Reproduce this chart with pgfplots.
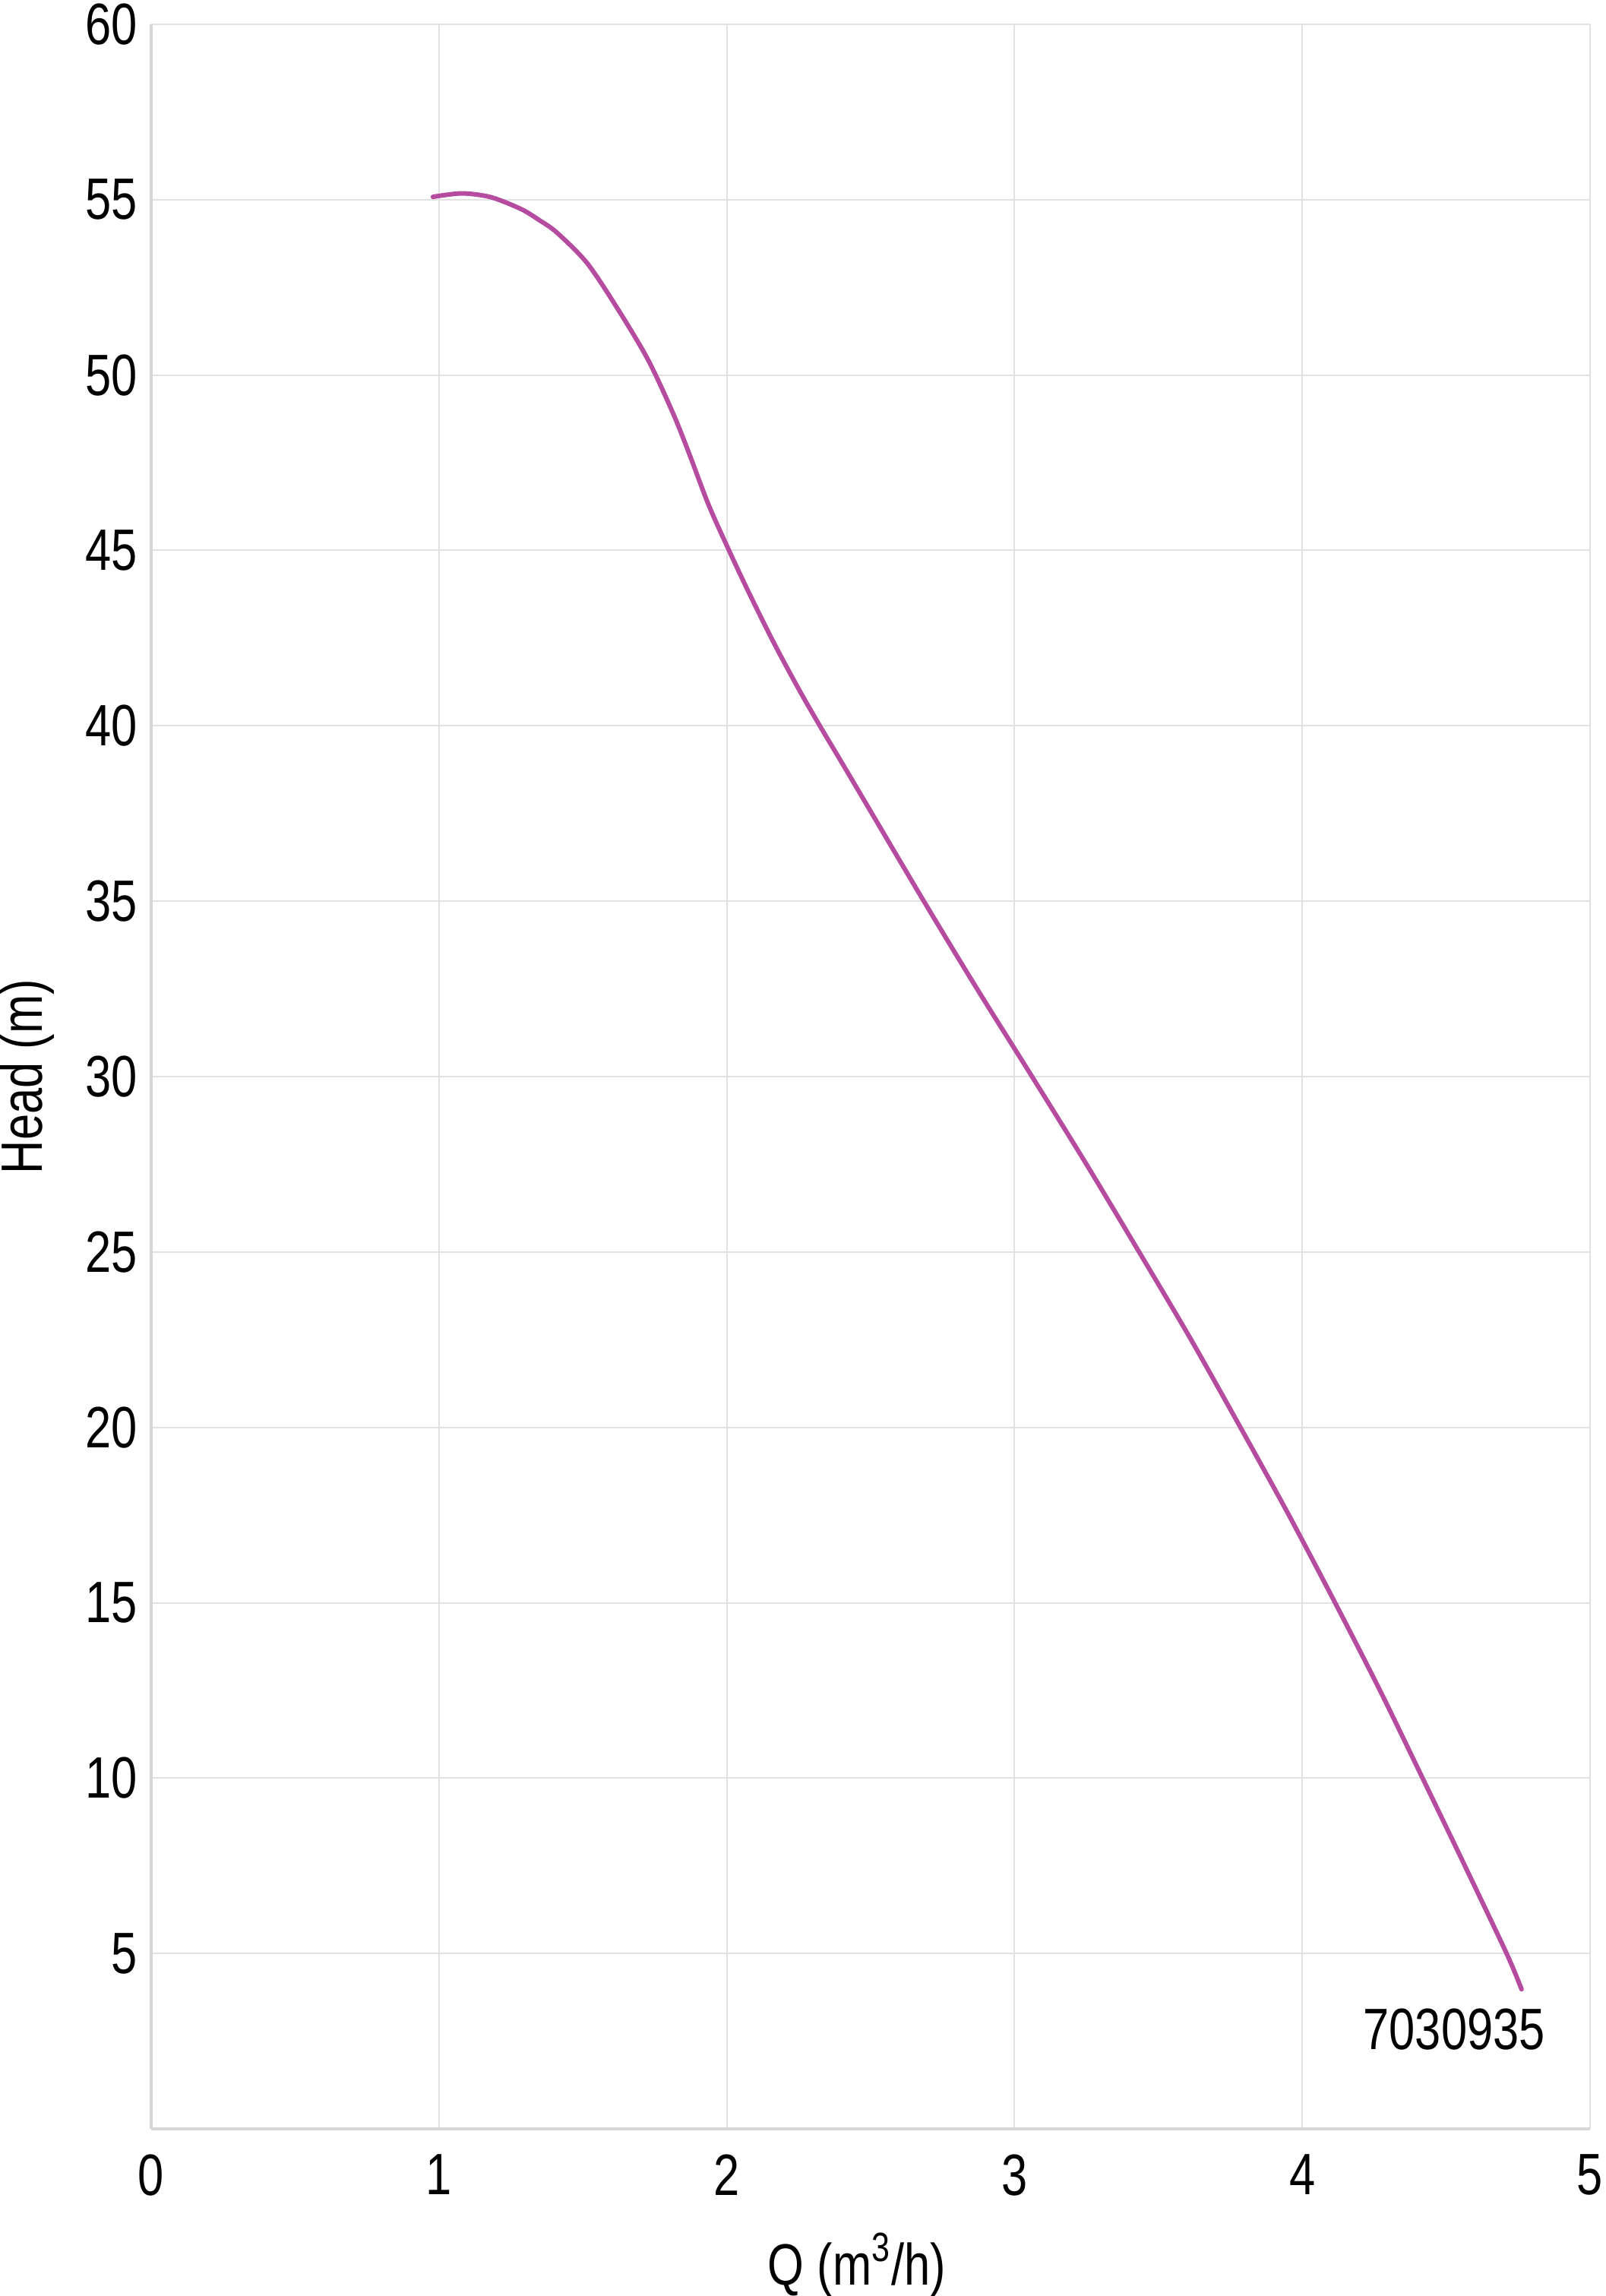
\documentclass[border=0pt]{standalone}
\usepackage{fontspec}
\setmainfont{Liberation Sans}[FakeStretch=0.8]
\usepackage{pgfplots}
\pgfplotsset{compat=1.18}
\definecolor{curve}{RGB}{182,76,160}
\definecolor{gridc}{RGB}{226,226,226}
\definecolor{axc}{RGB}{214,214,214}
\newcommand{\chartfont}{\fontsize{19.2pt}{23pt}\selectfont}
\begin{document}
\begin{tikzpicture}
\begin{axis}[
  scale only axis,
  width=473.5pt, height=692.5pt,
  xmin=0, xmax=5, ymin=0, ymax=60,
  xtick={0,1,2,3,4,5},
  ytick={5,10,15,20,25,30,35,40,45,50,55,60},
  axis x line*=bottom, axis y line*=left,
  axis line style={draw=axc, line width=1pt},
  major tick length=0pt,
  grid=major,
  major grid style={draw=gridc, line width=0.5pt},
  /pgf/number format/assume math mode=true,
  tick label style={font=\chartfont},
  xticklabel style={yshift=-5pt},
  yticklabel style={xshift=-1pt},
  xlabel={Q (m\textsuperscript{3}/h)},
  ylabel={Head (m)},
  every axis x label/.style={at={([xshift=-4.5pt,yshift=-51.25pt]axis description cs:0.5,0)}, anchor=base, font=\chartfont},
  every axis y label/.style={at={([xshift=-40.75pt]axis description cs:0,0.5)}, rotate=90, anchor=center, font=\chartfont},
  clip=false,
]
\addplot[curve, line width=1.5pt, smooth, tension=0.5, line cap=round] coordinates {
(0.979,55.08) (1.08,55.18) (1.181,55.07) (1.286,54.73) (1.35,54.41) (1.41,54.06)
(1.515,53.19) (1.621,51.89) (1.727,50.43) (1.814,48.9) (1.87,47.75)
(1.937,46.3) (2.008,45.0) (2.078,43.78) (2.166,42.33) (2.25,41.05)
(2.32,40.05) (2.4,38.95) (2.483,37.8) (2.685,35.0) (2.87,32.5) (3.061,30.0)
(3.25,27.5) (3.433,25.0) (3.61,22.55) (3.785,20.0) (3.95,17.55) (4.114,15.0)
(4.27,12.5) (4.418,10.0) (4.565,7.5) (4.71,5.0) (4.762,3.98)
};
\node[anchor=base, font=\chartfont] at (axis cs:4.528,2.27) {7030935};
\end{axis}
\pgfresetboundingbox
\useasboundingbox (-49.75pt,-55pt) rectangle (478.5pt,700.5pt);
\end{tikzpicture}
\end{document}
